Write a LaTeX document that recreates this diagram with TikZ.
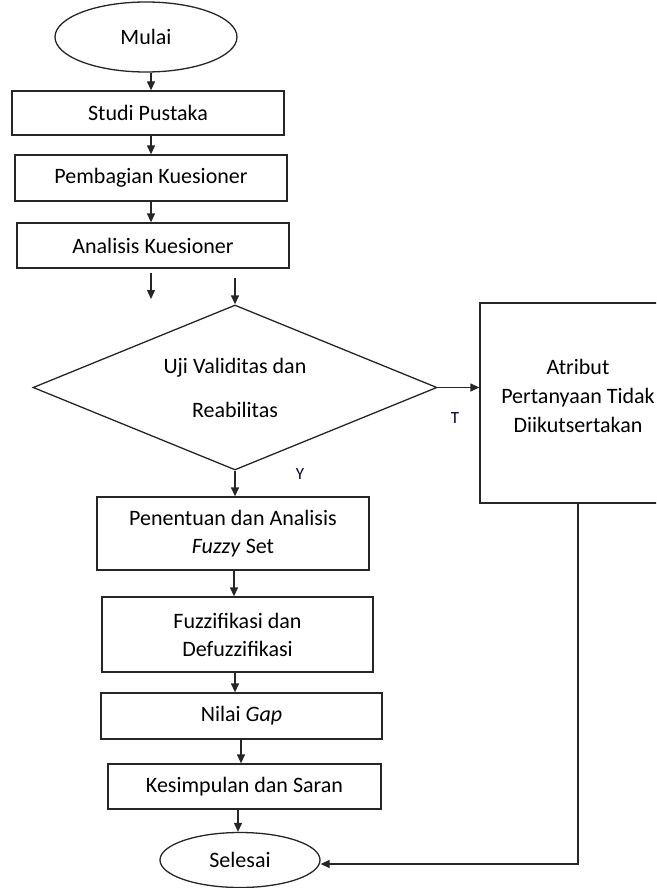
\documentclass[tikz,border=0pt]{standalone}
\usepackage{fontspec}
\setmainfont{Carlito}
\usetikzlibrary{shapes.geometric,arrows.meta,calc}
\tikzset{
  ln/.style={line width=1.3pt, draw=black!85},
  box/.style={ln, rectangle, inner sep=0pt, align=center, text=black,
    font=\fontsize{22}{28}\selectfont},
  term/.style={ln, ellipse, inner sep=0pt, text=black,
    font=\fontsize{22}{28}\selectfont},
  arr/.style={ln, -{Triangle[length=9pt,width=8pt]}},
  lab/.style={font=\fontsize{17}{20}\selectfont, text=black!80!blue, inner sep=0pt}
}
\begin{document}
\begin{tikzpicture}[x=1pt,y=-1pt]
\useasboundingbox (0,0) rectangle (656,888);
\clip (0,0) rectangle (656,888);
\fill[white] (0,0) rectangle (656,888);

% nodes
\node[term, minimum width=182pt, minimum height=70pt] (mulai) at (146,37) {Mulai};
\node[box, minimum width=272pt, minimum height=44pt] (studi) at (148,113) {Studi Pustaka};
\node[box, minimum width=272pt, minimum height=46pt] (pemb) at (151,178) {Pembagian Kuesioner};
\node[box, minimum width=272pt, minimum height=45pt] (anal) at (153,245.5) {Analisis Kuesioner};
\node[ln, diamond, aspect=2.45, inner sep=0pt, minimum width=404pt, minimum height=165pt,
  align=center, text=black, font=\fontsize{22}{44}\selectfont] (uji) at (235,387.5)
  {Uji Validitas dan\\Reabilitas};
\node[box, minimum width=196pt, minimum height=200pt,
  label={[font=\fontsize{22}{29}\selectfont, align=center, text=black, yshift=7pt]center:Atribut\\Pertanyaan Tidak\\Diikutsertakan}]
  (atr) at (578,403) {};
\node[box, minimum width=272pt, minimum height=73pt] (pen) at (233,533.5) {Penentuan dan Analisis\\\textit{Fuzzy} Set};
\node[box, minimum width=271pt, minimum height=75pt] (fuz) at (237.5,634.5) {Fuzzifikasi dan\\Defuzzifikasi};
\node[box, minimum width=281pt, minimum height=46pt] (nil) at (241.5,716) {Nilai \textit{Gap}};
\node[box, minimum width=273pt, minimum height=45pt] (kes) at (244.5,786.5) {Kesimpulan dan Saran};
\node[term, minimum width=160pt, minimum height=55pt] (sel) at (240,860) {Selesai};

\node[lab] (lt) at (455,418) {T};
\node[lab] (ly) at (300,474) {Y};

% arrow columns / free ends
\coordinate (c1) at (151,0);
\coordinate (fa) at (151,273);
\coordinate (fb) at (151,299);
\coordinate (fc) at (235,278);
\coordinate (c2) at (234,0);
\coordinate (c3) at (235,0);
\coordinate (c4) at (241,0);
\coordinate (c5) at (238,0);

% connectors
\draw[arr] (mulai.south -| c1) -- (studi.north -| c1);
\draw[arr] (studi.south -| c1) -- (pemb.north -| c1);
\draw[arr] (pemb.south -| c1) -- (anal.north -| c1);
\draw[arr] (fa) -- (fb);
\draw[arr] (fc) -- (uji.north);
\draw[arr] (uji.east) -- (uji.east -| atr.west);
\draw[arr] (uji.south) -- (uji.south |- pen.north);
\draw[arr] (pen.south -| c2) -- (fuz.north -| c2);
\draw[arr] (fuz.south -| c3) -- (nil.north -| c3);
\draw[arr] (nil.south -| c4) -- (kes.north -| c4);
\draw[arr] (kes.south -| c5) -- (sel.north -| c5);
\draw[arr] (atr.south) |- ([yshift=-4pt]sel.east);
\end{tikzpicture}
\end{document}
